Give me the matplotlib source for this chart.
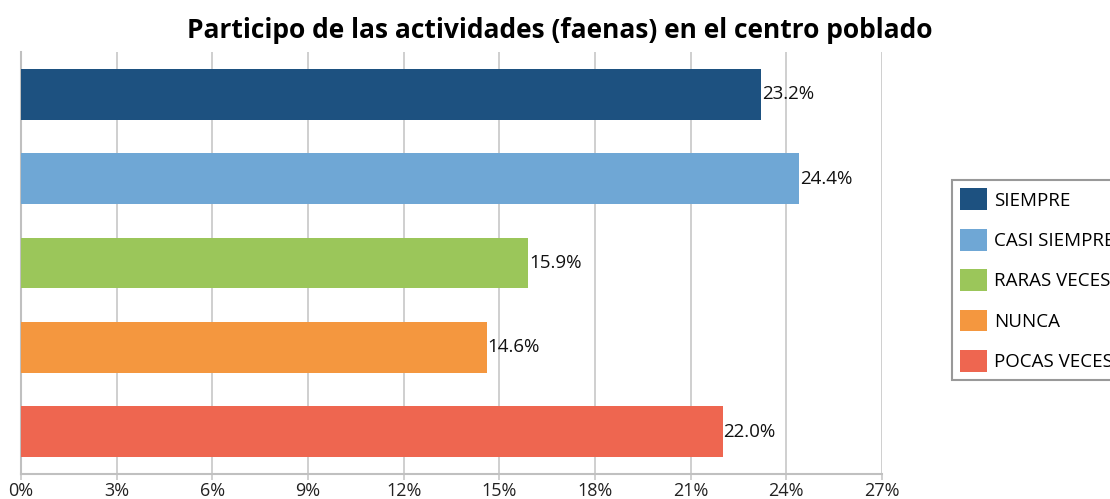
import matplotlib.pyplot as plt
from matplotlib.patches import Patch

# data
categories = ['SIEMPRE', 'CASI SIEMPRE', 'RARAS VECES', 'NUNCA', 'POCAS VECES']
values = [23.2, 24.4, 15.9, 14.6, 22.0]
colors = ['#1d5180', '#6fa7d5', '#9bc65a', '#f4973f', '#ee6650']
x_ticks = [0, 3, 6, 9, 12, 15, 18, 21, 24, 27]

plt.rcParams['font.family'] = ['Open Sans', 'DejaVu Sans']

fig = plt.figure(figsize=(11.1, 4.99), dpi=100)
ax = fig.add_axes([21 / 1110, 25 / 499, 861 / 1110, 422 / 499])

pos = list(range(len(categories)))
ax.barh(pos, values, height=0.6, color=colors, zorder=3)

# value labels at the bar ends
for p, v in zip(pos, values):
    ax.text(v + 0.03, p, f'{v:.1f}%', va='center', ha='left', fontsize=13.5, color='#111111', zorder=4)

ax.set_ylim(4.5, -0.5)
ax.set_xlim(0, 27)
ax.set_xticks(x_ticks)
ax.set_xticklabels([f'{t}%' for t in x_ticks], fontsize=13, color='#222222')
ax.set_yticks([])
ax.grid(axis='x', color='#cccccc', linewidth=1.3, zorder=0)
ax.tick_params(axis='x', length=4, color='#cccccc', width=1.3, pad=2)

for side in ['top', 'right']:
    ax.spines[side].set_visible(False)
for side in ['left', 'bottom']:
    ax.spines[side].set_color('#c0c0c0')
    ax.spines[side].set_linewidth(1.5)

fig.text(560 / 1110, 1 - 30 / 499, 'Participo de las actividades (faenas) en el centro poblado',
         ha='center', va='center', fontsize=19, fontweight='bold')

# legend sits partly outside the figure, as in the original
handles = [Patch(facecolor=c, edgecolor='none') for c in colors]
leg = fig.legend(handles, categories, loc='upper left', bbox_to_anchor=(952 / 1110, 1 - 180 / 499),
                 fontsize=13.5, fancybox=False, edgecolor='#999999', framealpha=1,
                 handlelength=1.4, handleheight=1.4, labelspacing=1.0, handletextpad=0.4,
                 borderpad=0.45, borderaxespad=0)
leg.get_frame().set_linewidth(1.5)

fig.savefig('out.png', dpi=100)
